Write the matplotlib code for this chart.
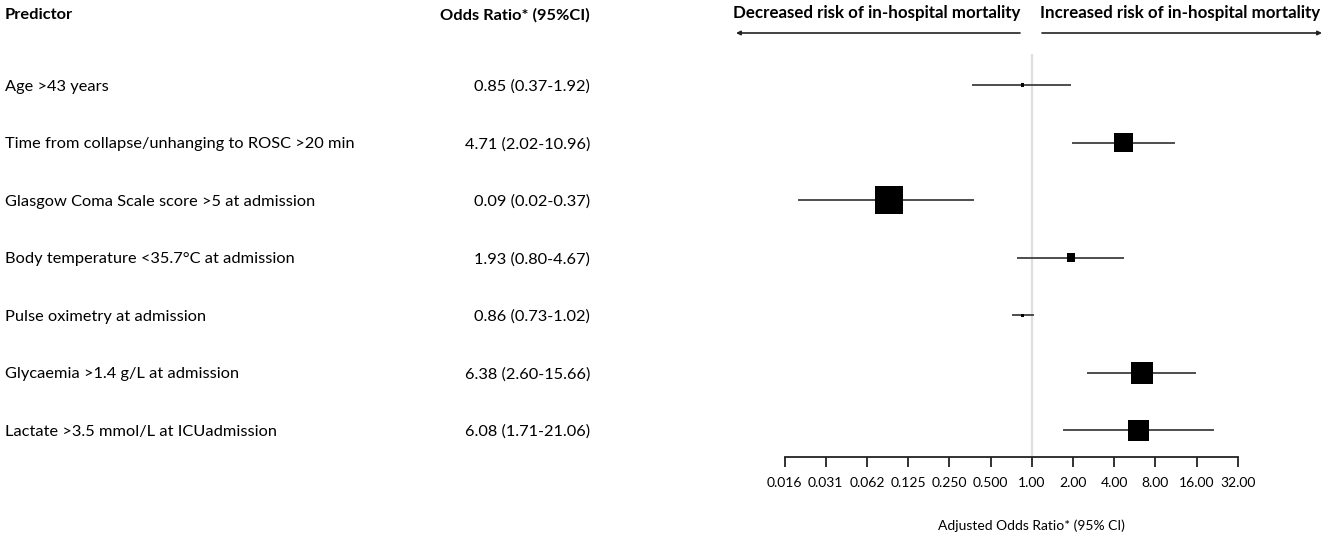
import numpy as np
import matplotlib
matplotlib.use("Agg")
import matplotlib.pyplot as plt
from matplotlib.transforms import blended_transform_factory

# ---- data ----
predictors = [
    "Age >43 years",
    "Time from collapse/unhanging to ROSC >20 min",
    "Glasgow Coma Scale score >5 at admission",
    "Body temperature <35.7°C at admission",
    "Pulse oximetry at admission",
    "Glycaemia >1.4 g/L at admission",
    "Lactate >3.5 mmol/L at ICUadmission",
]
odds_ratio = [0.85, 4.71, 0.09, 1.93, 0.86, 6.38, 6.08]
ci_low = [0.37, 2.02, 0.02, 0.80, 0.73, 2.60, 1.71]
ci_high = [1.92, 10.96, 0.37, 4.67, 1.02, 15.66, 21.06]
or_labels = ["0.85 (0.37-1.92)", "4.71 (2.02-10.96)", "0.09 (0.02-0.37)",
             "1.93 (0.80-4.67)", "0.86 (0.73-1.02)", "6.38 (2.60-15.66)",
             "6.08 (1.71-21.06)"]
weights = [0.04, 0.65, 1.0, 0.25, 0.04, 0.77, 0.73]   # relative box weights
tick_values = [1/64, 1/32, 1/16, 1/8, 1/4, 1/2, 1, 2, 4, 8, 16, 32]
tick_labels = ["0.016", "0.031", "0.062", "0.125", "0.250", "0.500",
               "1.00", "2.00", "4.00", "8.00", "16.00", "32.00"]

FONT = "Lato"
plt.rcParams['font.family'] = [FONT, 'DejaVu Sans']

W, H = 1325, 537
fig = plt.figure(figsize=(W / 100, H / 100), dpi=100)
ax = fig.add_axes([0, 0, 1, 1])

# pixel mapping: x_px = 1031.7 + 41.2*log2(v); y_px = 85 + 57.55*i
x0, dx = 1031.7, 41.2
y0, dy = 85.0, 57.55
ax.set_xscale("log", base=2)
ax.set_xlim(2 ** ((0 - x0) / dx), 2 ** ((W - x0) / dx))
ax.set_ylim((H - y0) / dy, (0 - y0) / dy)
ax.patch.set_alpha(0)

rows = np.arange(len(predictors))
axis_row = (457 - y0) / dy

# reference line
ax.plot([1, 1], [(55 - y0) / dy, axis_row], color="#dedede", lw=1.6, zorder=1)

# CIs
for i in rows:
    ax.plot([ci_low[i], ci_high[i]], [i, i], color="#4d4d4d", lw=1.4, zorder=2)
# boxes
sizes = [(2 + 26 * w) * 0.72 for w in weights]
ax.scatter(odds_ratio, rows, marker="s", s=np.array(sizes) ** 2,
           color="black", edgecolors="none", zorder=3)

# axis
for s in ["top", "right", "left"]:
    ax.spines[s].set_visible(False)
ax.spines["bottom"].set_position(("data", axis_row))
ax.spines["bottom"].set_bounds(tick_values[0], tick_values[-1])
ax.spines["bottom"].set_linewidth(1.3)
ax.spines["bottom"].set_color("#222222")
ax.set_xticks(tick_values)
ax.set_xticklabels(tick_labels)
ax.minorticks_off()
ax.tick_params(axis="x", direction="out", length=7.5, width=1.3, color="#222222",
               labelsize=10, pad=7)
ax.set_yticks([])
ax.text(1, (526 - y0) / dy, "Adjusted Odds Ratio* (95% CI)", ha="center",
        va="center", fontsize=10)

# left table
tr = blended_transform_factory(fig.transFigure, ax.transData)
head_row = (15 - y0) / dy
FS = 11.8
ax.text(5 / W, head_row, "Predictor", transform=tr, ha="left", va="center",
        fontsize=FS, fontweight="bold")
ax.text(590 / W, head_row, "Odds Ratio* (95%CI)", transform=tr, ha="right",
        va="center", fontsize=FS, fontweight="bold")
for i in rows:
    ax.text(5 / W, i + 0.03, predictors[i], transform=tr, ha="left", va="center",
            fontsize=FS)
    ax.text(590 / W, i + 0.03, or_labels[i], transform=tr, ha="right", va="center",
            fontsize=FS)

# direction headers
ax.text(877 / W, head_row - 0.04, "Decreased risk of in-hospital mortality",
        transform=tr, ha="center", va="center", fontsize=12.2, fontweight="bold")
ax.text(1180 / W, head_row - 0.04, "Increased risk of in-hospital mortality",
        transform=tr, ha="center", va="center", fontsize=12.2, fontweight="bold")
arrow_row = (33 - y0) / dy
ax.annotate("", xy=(736 / W, arrow_row), xytext=(1020 / W, arrow_row),
            xycoords=tr, textcoords=tr,
            arrowprops=dict(arrowstyle="-|>", lw=1.2, color="#222222",
                            mutation_scale=6, shrinkA=0, shrinkB=0))
ax.annotate("", xy=(1322 / W, arrow_row), xytext=(1042 / W, arrow_row),
            xycoords=tr, textcoords=tr,
            arrowprops=dict(arrowstyle="-|>", lw=1.2, color="#222222",
                            mutation_scale=6, shrinkA=0, shrinkB=0))

fig.savefig("out.png", dpi=100)
